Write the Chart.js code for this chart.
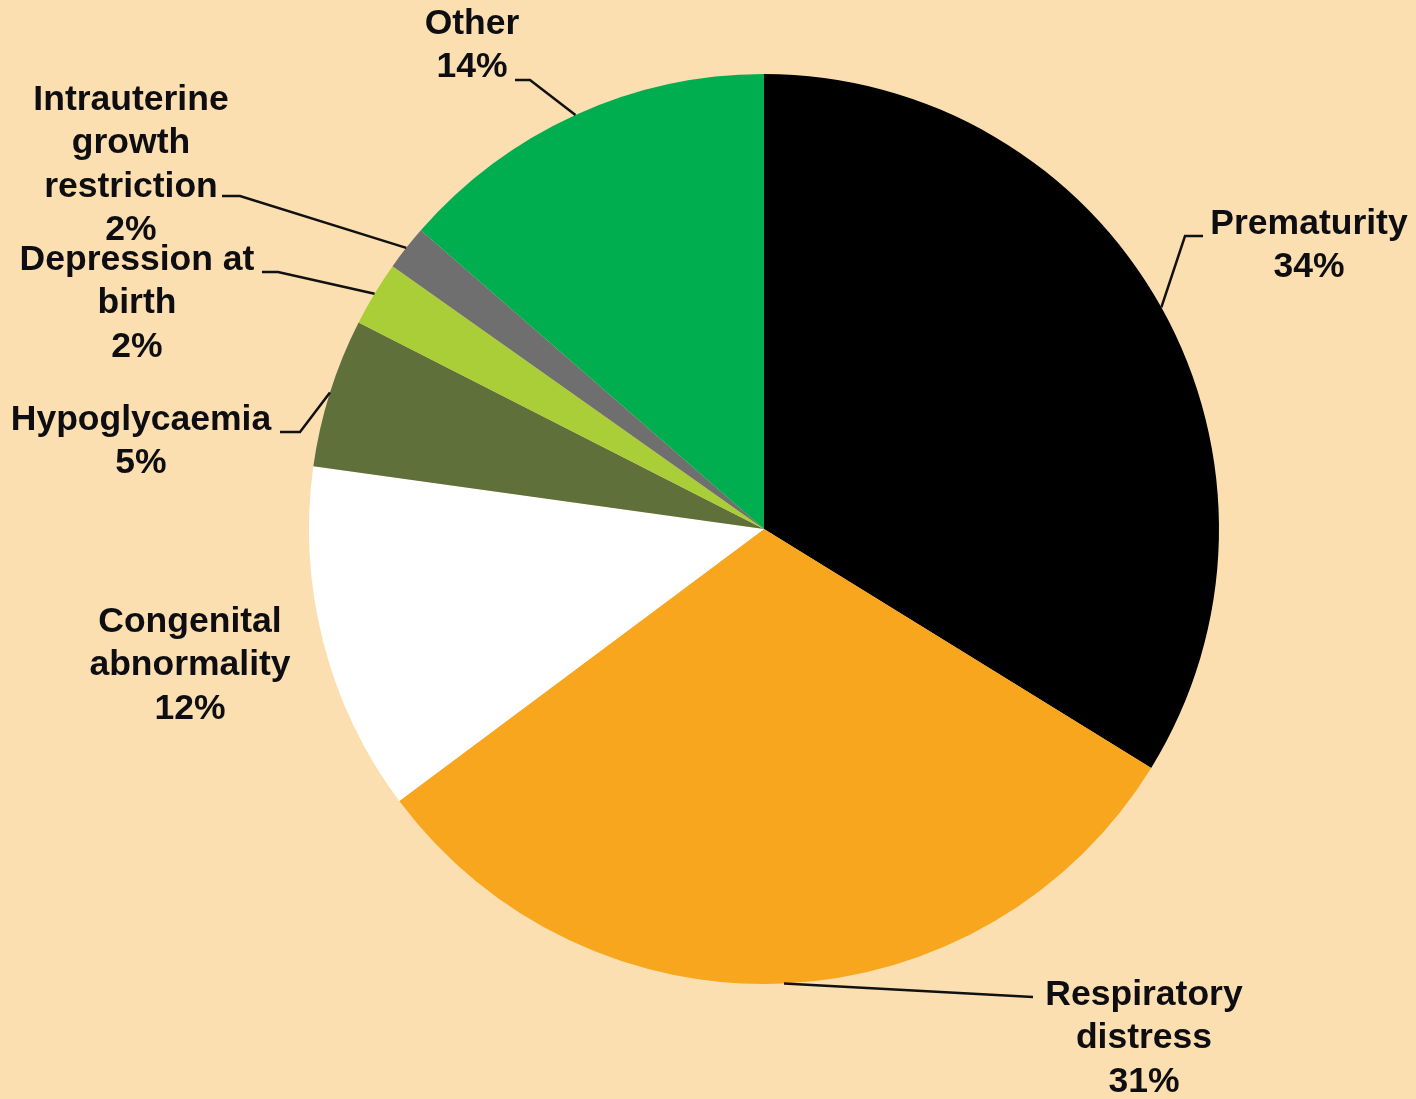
<!DOCTYPE html>
<html>
<head>
<meta charset="utf-8">
<script src="https://cdn.jsdelivr.net/npm/chart.js@4"></script>
<style>
    html, body { margin: 0; padding: 0; background: #FBDFB0; }
    #wrap { width: 1416px; height: 1099px; }
</style>
</head>
<body>
<div id="wrap"><canvas id="causeChart" width="1416" height="1099"></canvas></div>
<script>
// Slices, clockwise from 12 o'clock
const categories = [
    ['Prematurity'],
    ['Respiratory', 'distress'],
    ['Congenital', 'abnormality'],
    ['Hypoglycaemia'],
    ['Depression at', 'birth'],
    ['Intrauterine', 'growth', 'restriction'],
    ['Other']
];
const shares = [33.8, 31.0, 12.4, 5.3, 2.3, 1.6, 13.6];
const sliceColors = ['#000000', '#F8A61E', '#FFFFFF', '#5F703A', '#AACE38', '#6F6F6F', '#00AD4F'];

// where each label block sits: text centre x, first line y, elbow of the leader line
const labelSpots = [
    { x: 1309, y: 224, knee: [1185, 236], end: 1203 },
    { x: 1144, y: 995, knee: null, end: 1033, endY: 997 },
    { x: 190, y: 622, knee: null },
    { x: 141, y: 420, knee: [300, 432], end: 280 },
    { x: 137, y: 260, knee: [278, 272], end: 262 },
    { x: 131, y: 100, knee: [240, 196], end: 222 },
    { x: 472, y: 24, knee: [530, 80], end: 515 }
];

const lineHeight = 43.5;

const calloutPlugin = {
    id: 'callouts',
    afterDatasetsDraw(chart) {
        const ctx = chart.ctx;
        const meta = chart.getDatasetMeta(0);
        ctx.save();
        ctx.font = 'bold 35.5px "Liberation Sans", Arial, sans-serif';
        ctx.textAlign = 'center';
        ctx.textBaseline = 'middle';
        ctx.strokeStyle = '#111111';
        ctx.lineWidth = 2.5;

        meta.data.forEach((arc, i) => {
            const p = arc.getProps(['x', 'y', 'startAngle', 'endAngle', 'outerRadius'], true);
            const mid = (p.startAngle + p.endAngle) / 2;
            const ex = p.x + Math.cos(mid) * p.outerRadius;
            const ey = p.y + Math.sin(mid) * p.outerRadius;
            const spot = labelSpots[i];

            // leader line
            if (spot.knee) {
                ctx.beginPath();
                ctx.moveTo(ex, ey);
                ctx.lineTo(spot.knee[0], spot.knee[1]);
                ctx.lineTo(spot.end, spot.knee[1]);
                ctx.stroke();
            } else if (spot.end) {
                ctx.beginPath();
                ctx.moveTo(ex, ey);
                ctx.lineTo(spot.end, spot.endY);
                ctx.stroke();
            }

            const lines = categories[i].concat([Math.round(shares[i]) + '%']);
            ctx.fillStyle = '#0d0d12';
            lines.forEach((txt, k) => {
                ctx.fillText(txt, spot.x, spot.y + k * lineHeight);
            });
        });
        ctx.restore();
    }
};

new Chart(document.getElementById('causeChart'), {
    type: 'pie',
    data: {
        labels: categories.map(c => c.join(' ')),
        datasets: [{
            data: shares,
            backgroundColor: sliceColors,
            borderWidth: 0
        }]
    },
    options: {
        responsive: false,
        animation: false,
        layout: {
            padding: { top: 73, bottom: 114, left: 309, right: 197 }
        },
        plugins: {
            legend: { display: false },
            tooltip: { enabled: false }
        }
    },
    plugins: [calloutPlugin]
});
</script>
</body>
</html>
